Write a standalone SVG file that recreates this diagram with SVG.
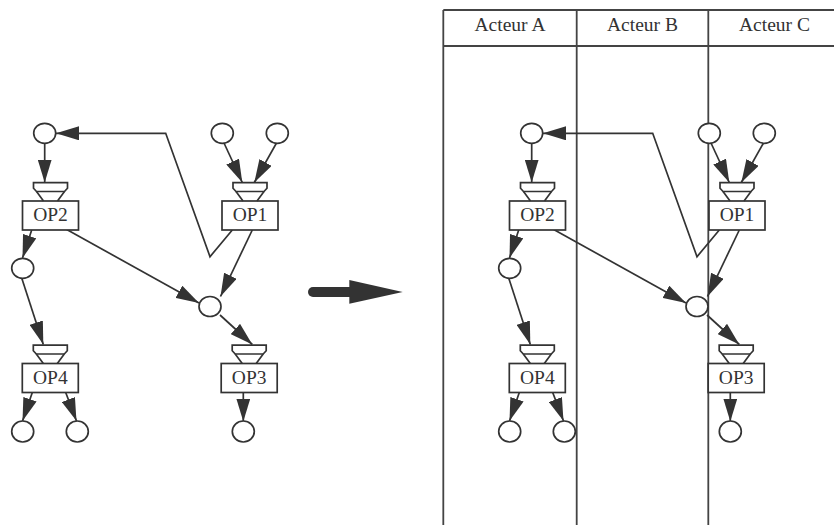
<svg xmlns="http://www.w3.org/2000/svg" width="834" height="525" viewBox="0 0 834 525">
<style>
.ln{fill:none;stroke:#333;stroke-width:1.7;stroke-linejoin:miter}
.ar{fill:none;stroke:#333;stroke-width:1.7;marker-end:url(#ah)}
.nd{fill:#fff;stroke:#333;stroke-width:1.7}
.lane{fill:none;stroke:#444;stroke-width:1.8}
</style>
<defs>
<marker id="ah" markerUnits="userSpaceOnUse" markerWidth="24" markerHeight="14" refX="23" refY="7" orient="auto">
<path d="M0,0 L23,7 L0,14 z" fill="#333"/>
</marker>
<g id="opshape">
<rect class="nd" x="-28" y="0" width="56" height="29"/>
<polygon class="nd" points="-17,-18.3 17,-18.3 17,-12.8 14,-9.5 -14,-9.5 -17,-12.8"/>
<path class="ln" d="M-14,-9.5 L-7,0 M14,-9.5 L7,0"/>
</g>
</defs>

<g id="lanes">
<path class="lane" d="M443.3,10 L834,10 M443.3,46 L834,46 M443.3,10 L443.3,525 M576.7,10 L576.7,525 M708.3,10 L708.3,525"/>
<g font-family="Liberation Serif, Times New Roman, serif" font-size="19.5" fill="#333" text-anchor="middle">
<text x="510" y="30.5">Acteur A</text>
<text x="642.5" y="30.5">Acteur B</text>
<text x="774.5" y="30.5">Acteur C</text>
</g>
</g>

<g id="big-arrow">
<line x1="313" y1="292" x2="352" y2="292" stroke="#333" stroke-width="10" stroke-linecap="round"/>
<polygon points="349.3,280 402.7,292 349.3,303.8" fill="#333"/>
</g>

<g id="connectors-left">
<polyline class="ar" points="232.3,230 210,256.7 165.7,133.3 56,133.3"/>
<line class="ar" x1="44.7" y1="143" x2="44.7" y2="182.5"/>
<line class="ar" x1="224" y1="143" x2="242.3" y2="182.5"/>
<line class="ar" x1="276.5" y1="143" x2="254.3" y2="182.5"/>
<line class="ar" x1="31.7" y1="230" x2="22.5" y2="258"/>
<line class="ar" x1="66.7" y1="229.5" x2="199" y2="303"/>
<line class="ar" x1="252.3" y1="230" x2="220.5" y2="296.5"/>
<line class="ar" x1="220" y1="315" x2="252.3" y2="344.5"/>
<line class="ar" x1="21.7" y1="278" x2="43.3" y2="344.5"/>
<line class="ar" x1="243.3" y1="392.5" x2="243.3" y2="421.5"/>
<line class="ar" x1="32.3" y1="392.5" x2="22.5" y2="421"/>
<line class="ar" x1="65.7" y1="392.5" x2="76.5" y2="421"/>
</g>

<g id="connectors-right" transform="translate(487,0)">
<polyline class="ar" points="232.3,230 210,256.7 165.7,133.3 56,133.3"/>
<line class="ar" x1="44.7" y1="143" x2="44.7" y2="182.5"/>
<line class="ar" x1="224" y1="143" x2="242.3" y2="182.5"/>
<line class="ar" x1="276.5" y1="143" x2="254.3" y2="182.5"/>
<line class="ar" x1="31.7" y1="230" x2="22.5" y2="258"/>
<line class="ar" x1="66.7" y1="229.5" x2="199" y2="303"/>
<line class="ar" x1="252.3" y1="230" x2="220.5" y2="296.5"/>
<line class="ar" x1="220" y1="315" x2="252.3" y2="344.5"/>
<line class="ar" x1="21.7" y1="278" x2="43.3" y2="344.5"/>
<line class="ar" x1="243.3" y1="392.5" x2="243.3" y2="421.5"/>
<line class="ar" x1="32.3" y1="392.5" x2="22.5" y2="421"/>
<line class="ar" x1="65.7" y1="392.5" x2="76.5" y2="421"/>
</g>

<g id="nodes-left" font-family="Liberation Serif, Times New Roman, serif" font-size="19.5" fill="#333" text-anchor="middle">
<g id="L-OP1" transform="translate(250,201)"><use href="#opshape"/><text x="0" y="20">OP1</text></g>
<g id="L-OP2" transform="translate(50.5,201)"><use href="#opshape"/><text x="0" y="20">OP2</text></g>
<g id="L-OP3" transform="translate(249.2,363.5)"><use href="#opshape"/><text x="0" y="20">OP3</text></g>
<g id="L-OP4" transform="translate(50.3,363.5)"><use href="#opshape"/><text x="0" y="20">OP4</text></g>
<g id="L-p1"><ellipse class="nd" cx="44.7" cy="133.3" rx="11" ry="10"/></g>
<g id="L-p2"><ellipse class="nd" cx="222.3" cy="133.3" rx="11" ry="10"/></g>
<g id="L-p3"><ellipse class="nd" cx="277.3" cy="133.3" rx="11" ry="10"/></g>
<g id="L-p4"><ellipse class="nd" cx="22.7" cy="268.3" rx="11" ry="10"/></g>
<g id="L-p5"><ellipse class="nd" cx="210" cy="306.5" rx="11" ry="10"/></g>
<g id="L-p6"><ellipse class="nd" cx="22.7" cy="431.5" rx="11" ry="10.5"/></g>
<g id="L-p7"><ellipse class="nd" cx="77.3" cy="431.5" rx="11" ry="10.5"/></g>
<g id="L-p8"><ellipse class="nd" cx="243.3" cy="431.5" rx="11" ry="10.5"/></g>
</g>

<g id="nodes-right" transform="translate(487,0)" font-family="Liberation Serif, Times New Roman, serif" font-size="19.5" fill="#333" text-anchor="middle">
<g id="R-OP1" transform="translate(250,201)"><use href="#opshape"/><text x="0" y="20">OP1</text></g>
<g id="R-OP2" transform="translate(50.5,201)"><use href="#opshape"/><text x="0" y="20">OP2</text></g>
<g id="R-OP3" transform="translate(249.2,363.5)"><use href="#opshape"/><text x="0" y="20">OP3</text></g>
<g id="R-OP4" transform="translate(50.3,363.5)"><use href="#opshape"/><text x="0" y="20">OP4</text></g>
<g id="R-p1"><ellipse class="nd" cx="44.7" cy="133.3" rx="11" ry="10"/></g>
<g id="R-p2"><ellipse class="nd" cx="222.3" cy="133.3" rx="11" ry="10"/></g>
<g id="R-p3"><ellipse class="nd" cx="277.3" cy="133.3" rx="11" ry="10"/></g>
<g id="R-p4"><ellipse class="nd" cx="22.7" cy="268.3" rx="11" ry="10"/></g>
<g id="R-p5"><ellipse class="nd" cx="210" cy="306.5" rx="11" ry="10"/></g>
<g id="R-p6"><ellipse class="nd" cx="22.7" cy="431.5" rx="11" ry="10.5"/></g>
<g id="R-p7"><ellipse class="nd" cx="77.3" cy="431.5" rx="11" ry="10.5"/></g>
<g id="R-p8"><ellipse class="nd" cx="243.3" cy="431.5" rx="11" ry="10.5"/></g>
</g>
</svg>
